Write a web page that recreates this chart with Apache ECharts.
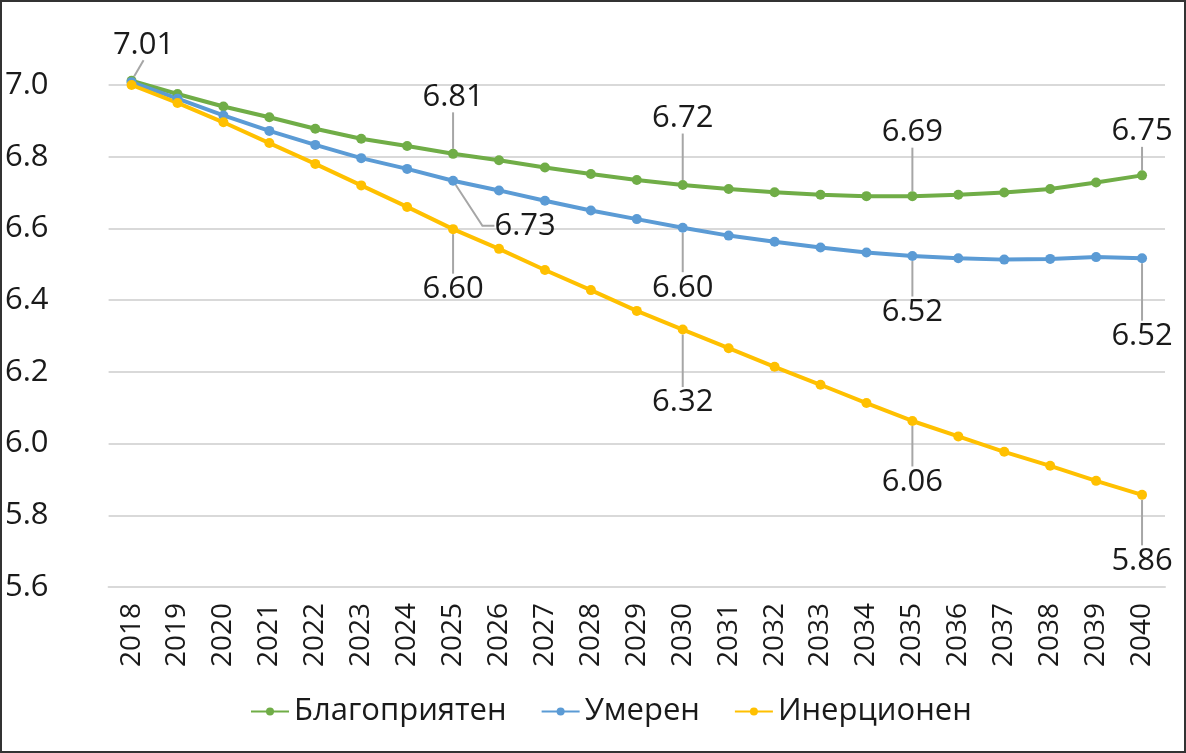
<!DOCTYPE html>
<html>
<head>
<meta charset="utf-8">
<script src="https://cdn.jsdelivr.net/npm/echarts@6/dist/echarts.min.js"></script>
<style>
html, body { margin: 0; padding: 0; background: #fff; }
#chart { width: 1186px; height: 753px; box-sizing: border-box; border: 2px solid #333; }
</style>
</head>
<body>
<div id="chart"></div>
<script>
// data
var years = ['2018','2019','2020','2021','2022','2023','2024','2025','2026','2027','2028','2029',
             '2030','2031','2032','2033','2034','2035','2036','2037','2038','2039','2040'];
var favorable = [7.012, 6.975, 6.940, 6.910, 6.878, 6.850, 6.830, 6.808, 6.790, 6.770, 6.752, 6.735,
                 6.721, 6.710, 6.701, 6.694, 6.690, 6.690, 6.694, 6.700, 6.710, 6.728, 6.748];
var moderate = [7.008, 6.962, 6.915, 6.872, 6.833, 6.796, 6.766, 6.733, 6.706, 6.677, 6.650, 6.626,
                6.602, 6.580, 6.563, 6.547, 6.533, 6.523, 6.517, 6.513, 6.515, 6.520, 6.517];
var inertial = [7.000, 6.950, 6.896, 6.838, 6.780, 6.720, 6.660, 6.598, 6.543, 6.484, 6.428, 6.370,
                6.318, 6.266, 6.214, 6.164, 6.113, 6.063, 6.020, 5.977, 5.938, 5.896, 5.857];
var seriesNames = ['Благоприятен', 'Умерен', 'Инерционен'];
var labeledYears = [
  ['2018', '2025', '2030', '2035', '2040'],
  ['2025', '2030', '2035', '2040'],
  ['2025', '2030', '2035', '2040']
];
var yMin = 5.6, yMax = 7.0, yStep = 0.2;

// label shifts (px) from each point, by series then year
var labelShift = [
  { '2018': [12, -36], '2025': [0, -57], '2030': [0, -67], '2035': [0, -64], '2040': [0, -44] },
  { '2025': [72, 45], '2030': [0, 60], '2035': [0, 56], '2040': [0, 78] },
  { '2025': [0, 60], '2030': [0, 73], '2035': [0, 61], '2040': [0, 66] }
];
var colors = ['#70AD47', '#5B9BD5', '#FFC000'];
var font = '"Open Sans", "Noto Sans", sans-serif';

function buildData(values, idx) {
  return values.map(function (v, i) {
    if (labeledYears[idx].indexOf(years[i]) < 0) return v;
    return {
      value: v,
      label: { show: true },
      labelLine: { show: true, length2: (idx === 1 && years[i] === '2025') ? 12 : 0 }
    };
  });
}

var chart = echarts.init(document.getElementById('chart'));
var allValues = [favorable, moderate, inertial];
var series = allValues.map(function (vals, idx) {
  return {
    name: seriesNames[idx],
    type: 'line',
    data: buildData(vals, idx),
    clip: false,
    symbol: 'circle',
    symbolSize: 10,
    lineStyle: { width: 4, color: colors[idx] },
    itemStyle: { color: colors[idx] },
    label: {
      show: false,
      position: 'inside',
      formatter: function (p) { return Number(p.value).toFixed(2); },
      color: '#1a1a1a',
      fontSize: 31,
      fontFamily: font
    },
    labelLine: { lineStyle: { color: '#a6a6a6', width: 2 } },
    labelLayout: function (params) {
      var s = labelShift[params.seriesIndex][years[params.dataIndex]];
      return s ? { dx: s[0], dy: s[1] } : {};
    },
    emphasis: { disabled: true },
    animation: false
  };
});

var option = {
  animation: false,
  color: colors,
  grid: { left: 105, right: 19, top: 83, bottom: 164 },
  legend: {
    data: seriesNames,
    bottom: 19,
    left: 243,
    itemWidth: 38,
    itemHeight: 10,
    itemGap: 34,
    textStyle: { fontSize: 31, color: '#1a1a1a', fontFamily: font }
  },
  xAxis: {
    type: 'category',
    data: years,
    boundaryGap: true,
    axisLine: { lineStyle: { color: '#d9d9d9', width: 2 } },
    axisTick: { show: false },
    axisLabel: { rotate: 90, margin: 16, fontSize: 28, color: '#1a1a1a', fontFamily: font }
  },
  yAxis: {
    type: 'value',
    min: yMin,
    max: yMax,
    interval: yStep,
    axisLine: { show: false },
    axisTick: { show: false },
    splitLine: { lineStyle: { color: '#d9d9d9', width: 2 } },
    axisLabel: {
      margin: 60,
      fontSize: 31,
      color: '#1a1a1a',
      fontFamily: font,
      formatter: function (v) { return v.toFixed(1); }
    }
  },
  series: series
};
chart.setOption(option);
</script>
</body>
</html>
